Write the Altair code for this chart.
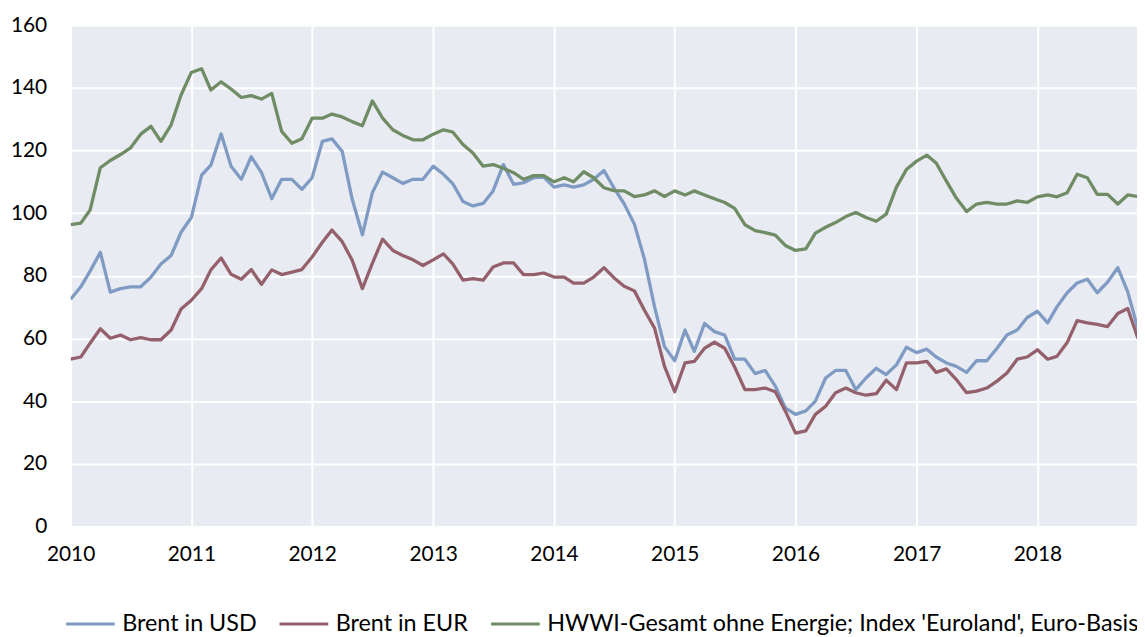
import altair as alt
import pandas as pd

months = pd.date_range("2010-01-01", periods=107, freq="MS").strftime("%Y-%m-%d").tolist()

brent_usd = [
    72.5, 76.5, 81.5, 87.5, 74.8, 75.9, 76.5, 76.5, 79.6, 83.8, 86.5, 93.9,
    98.6, 112.1, 115.3, 125.3, 115.0, 110.8, 118.0, 112.9, 104.6, 110.8, 110.8, 107.6,
    111.3, 122.9, 123.7, 119.7, 104.5, 93.1, 106.5, 113.1, 111.3, 109.5, 110.8, 110.8,
    115.0, 112.4, 109.4, 103.7, 102.3, 103.1, 107.1, 115.5, 109.2, 109.7, 111.3, 111.5,
    108.3, 109.0, 108.3, 109.0, 110.8, 113.6, 108.1, 103.0, 96.5, 85.5, 70.1, 57.4,
    52.9, 62.7, 55.9, 64.8, 62.2, 61.1, 53.4, 53.4, 48.8, 49.8, 44.8, 37.9,
    35.8, 36.9, 40.0, 47.4, 49.8, 49.8, 43.7, 47.4, 50.5, 48.5, 51.6, 57.2,
    55.5, 56.6, 54.1, 52.2, 51.1, 49.2, 52.9, 52.9, 56.9, 61.1, 62.7, 66.7,
    68.7, 65.0, 70.1, 74.6, 77.7, 78.9, 74.6, 78.0, 82.6, 74.9, 63.0,
]

brent_eur = [
    53.4, 54.1, 58.5, 63.1, 60.1, 61.1, 59.6, 60.3, 59.6, 59.6, 62.7, 69.4,
    72.2, 75.9, 81.9, 85.7, 80.5, 78.9, 82.0, 77.3, 81.9, 80.4, 81.2, 82.0,
    86.0, 90.7, 94.6, 90.9, 85.0, 75.9, 84.0, 91.7, 88.1, 86.5, 85.1, 83.3,
    85.1, 87.0, 83.8, 78.6, 79.1, 78.6, 82.8, 84.1, 84.1, 80.4, 80.4, 80.9,
    79.6, 79.6, 77.7, 77.7, 79.6, 82.6, 79.4, 76.7, 75.2, 69.1, 63.3, 51.1,
    43.0, 52.2, 52.7, 56.9, 58.8, 56.9, 50.9, 43.7, 43.7, 44.2, 43.0, 36.9,
    29.8, 30.5, 35.8, 38.4, 42.7, 44.2, 42.7, 41.9, 42.4, 46.7, 43.7, 52.2,
    52.2, 52.7, 49.2, 50.3, 46.9, 42.7, 43.2, 44.2, 46.4, 49.0, 53.4, 54.1,
    56.4, 53.4, 54.3, 58.7, 65.7, 65.0, 64.5, 63.8, 68.0, 69.6, 60.0,
]

hwwi = [
    96.3, 96.8, 101.0, 114.5, 116.8, 118.7, 120.8, 125.2, 127.7, 122.9, 128.2, 137.7,
    144.9, 146.1, 139.3, 141.9, 139.6, 136.9, 137.5, 136.4, 138.2, 126.1, 122.3, 123.7,
    130.3, 130.3, 131.6, 130.7, 129.2, 127.9, 135.8, 130.3, 126.6, 124.8, 123.4, 123.4,
    125.2, 126.6, 125.9, 121.9, 119.2, 115.0, 115.5, 114.3, 112.9, 110.8, 112.0, 112.0,
    110.0, 111.3, 110.0, 113.2, 111.3, 108.1, 107.2, 107.1, 105.3, 105.8, 107.1, 105.3,
    107.1, 105.8, 107.1, 105.8, 104.6, 103.4, 101.5, 96.3, 94.4, 93.8, 93.0, 89.7,
    88.1, 88.6, 93.6, 95.5, 97.0, 98.9, 100.2, 98.6, 97.4, 99.7, 108.3, 113.9,
    116.6, 118.5, 116.0, 110.2, 104.8, 100.5, 102.9, 103.4, 102.9, 102.9, 103.9, 103.4,
    105.2, 105.8, 105.2, 106.5, 112.4, 111.3, 106.0, 106.0, 102.9, 105.8, 105.3,
]

series_names = [
    "Brent in USD",
    "Brent in EUR",
    "HWWI-Gesamt ohne Energie; Index 'Euroland', Euro-Basis",
]
series_colors = ["#7f9ac3", "#94606c", "#6f8c64"]
year_ticks = list(range(2010, 2019))
y_ticks = list(range(0, 161, 20))

rows = []
for order, (name, vals) in enumerate(zip(series_names, [brent_usd, brent_eur, hwwi])):
    for d, v in zip(months, vals):
        rows.append({"date": d, "value": v, "series": name, "order": order})
df = pd.DataFrame(rows)

FONT = "Lato"

chart = (
    alt.Chart(df)
    .mark_line(clip=True, strokeWidth=3.3, strokeJoin="round")
    .encode(
        x=alt.X(
            "date:T",
            scale=alt.Scale(
                type="utc",
                domain=[
                    alt.DateTime(year=2010, month=1, date=1, utc=True),
                    alt.DateTime(year=2018, month=10, date=29, utc=True),
                ],
            ),
            axis=alt.Axis(
                values=[alt.DateTime(year=y, month=1, date=1, utc=True) for y in year_ticks],
                format="%Y",
                title=None,
                labelFlush=False,
                labelOverlap=False,
                labelPadding=17,
            ),
        ),
        y=alt.Y(
            "value:Q",
            scale=alt.Scale(domain=[0, 160], nice=False),
            axis=alt.Axis(
                values=y_ticks,
                title=None,
                labelFlush=False,
                labelOverlap=False,
                labelPadding=24,
            ),
        ),
        color=alt.Color(
            "series:N",
            scale=alt.Scale(domain=series_names, range=series_colors),
            legend=alt.Legend(
                title=None,
                orient="none",
                direction="horizontal",
                legendX=-6,
                legendY=577,
                symbolType="stroke",
                symbolSize=2401,
                symbolStrokeWidth=3,
                labelFont=FONT,
                labelFontSize=23.5,
                labelColor="#000000",
                labelOffset=6,
                labelLimit=2000,
                columnPadding=16,
            ),
        ),
        order=alt.Order("order:Q"),
    )
    .properties(
        width=1074,
        height=505,
        padding={"left": 63, "top": 15, "right": 0, "bottom": 108},
        autosize=alt.AutoSizeParams(type="none"),
    )
    .configure_view(fill="#e8ebf2", strokeWidth=0)
    .configure_axis(
        grid=True,
        gridColor="#ffffff",
        gridWidth=2,
        domain=False,
        ticks=False,
        tickSize=0,
        labelFont=FONT,
        labelFontSize=21,
        labelColor="#000000",
    )
)

chart.save("out.html", embed_options={"renderer": "svg", "actions": False})
